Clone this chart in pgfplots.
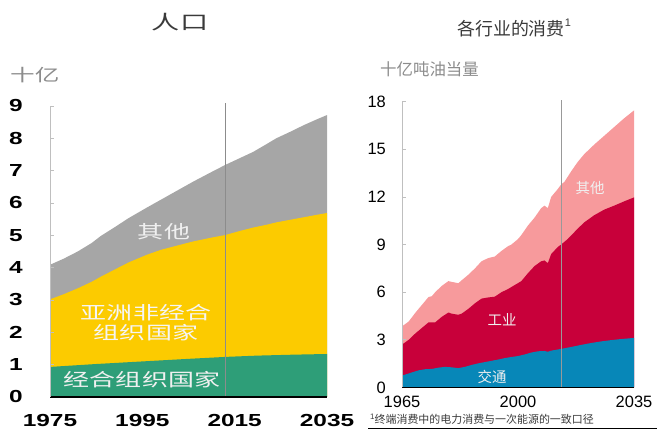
\documentclass[border=0pt]{standalone}
\usepackage{pgfplots}
\pgfplotsset{compat=1.18}
\usepackage{fontspec}
\setmainfont{Liberation Sans}
\newfontfamily\cjk{Noto Sans CJK SC}
\newfontfamily\cjkwide[FakeStretch=1.45]{Noto Sans CJK SC}
\newfontfamily\wide[FakeStretch=1.4]{Liberation Sans}
\definecolor{cgray}{HTML}{A6A6A6}
\definecolor{cyellow}{HTML}{FCCB00}
\definecolor{cgreen}{HTML}{2E9E78}
\definecolor{cpink}{HTML}{F79A9C}
\definecolor{cred}{HTML}{C8003A}
\definecolor{cblue}{HTML}{0787B8}
\definecolor{ctitle}{HTML}{3A3A3A}
\definecolor{clabel}{HTML}{8C8C8C}
\begin{document}
\begin{tikzpicture}[x=1bp,y=1bp]
\useasboundingbox (0,0) rectangle (660,436);
% ---------------- left: population ----------------
\begin{axis}[
  at={(50bp,39bp)}, anchor=south west,
  scale only axis, width=277bp, height=291bp,
  xmin=1975, xmax=2035, ymin=0, ymax=9,
  clip=false, axis on top,
  axis x line*=bottom, axis y line*=left,
  x axis line style={black, line width=2bp, -},
  y axis line style={black!25, line width=0.8bp, -},
  xtick={1975,1995,2015,2035},
  xticklabels={1975,1995,2015,2035},
  ytick={0,1,2,3,4,5,6,7,8,9},
  yticklabels={0,1,2,3,4,5,6,7,8,9},
  xtick style={draw=none},
  ytick style={black!25, line width=0.8bp},
  tick align=inside, major tick length=4bp,
  xticklabel style={anchor=center, yshift=-24bp, font=\wide\bfseries\fontsize{17.5}{18}\selectfont},
  yticklabel style={anchor=center, xshift=-34bp, font=\wide\bfseries\fontsize{17.5}{18}\selectfont},
]
\addplot[fill=cgray, draw=none] coordinates {
(1975,4.09) (1978,4.28) (1981,4.50) (1984,4.76) (1986,4.98) (1989,5.25) (1992,5.53)
(1996,5.86) (1999,6.10) (2003,6.42) (2006,6.66) (2010,6.96) (2013,7.18) (2016,7.38)
(2019,7.58) (2022,7.83) (2024,8.00) (2027,8.20) (2030,8.41) (2033,8.60) (2035,8.72)
} \closedcycle;
\addplot[fill=cyellow, draw=none] coordinates {
(1975,3.02) (1978,3.18) (1981,3.36) (1984,3.56) (1986,3.72) (1989,3.94) (1992,4.16)
(1996,4.40) (1999,4.55) (2003,4.70) (2006,4.81) (2010,4.93) (2013,5.01) (2016,5.13)
(2019,5.24) (2022,5.33) (2024,5.40) (2027,5.48) (2030,5.56) (2033,5.64) (2035,5.69)
} \closedcycle;
\addplot[fill=cgreen, draw=none] coordinates {
(1975,0.93) (1985,1.02) (1995,1.10) (2005,1.18) (2013,1.24) (2020,1.28) (2028,1.31) (2035,1.33)
} \closedcycle;
\addplot[black!45, line width=0.9bp] coordinates {(2013,0) (2013,9.1)};
\end{axis}
% ---------------- right: consumption ----------------
\begin{axis}[
  at={(402bp,48.5bp)}, anchor=south west,
  scale only axis, width=232bp, height=285.8bp,
  xmin=1965, xmax=2035, ymin=0, ymax=18,
  clip=false, axis on top,
  axis x line*=bottom, axis y line*=left,
  x axis line style={black, line width=1.8bp, -},
  y axis line style={black!25, line width=0.8bp, -},
  xtick={1965,2000,2035},
  xticklabels={1965,2000,2035},
  ytick={0,3,6,9,12,15,18},
  yticklabels={0,3,6,9,12,15,18},
  xtick style={draw=none},
  ytick style={black!25, line width=0.8bp},
  tick align=inside, major tick length=4bp,
  xticklabel style={anchor=center, yshift=-14bp, font=\fontsize{16.5}{17}\selectfont},
  yticklabel style={anchor=east, inner sep=0pt, xshift=-16bp, font=\fontsize{16.5}{17}\selectfont},
]
\addplot[fill=cpink, draw=none] coordinates {
(1965,3.85) (1967,4.15) (1969,4.70) (1971,5.20) (1973,5.70) (1974,5.75) (1975,6.00)
(1977,6.40) (1979,6.70) (1980,6.65) (1982,6.57) (1983,6.75) (1985,7.10) (1987,7.50)
(1989,7.95) (1991,8.15) (1993,8.25) (1995,8.60) (1997,8.90) (1998,9.00) (2000,9.35)
(2001,9.60) (2003,10.20) (2005,10.70) (2007,11.30) (2008,11.45) (2009,11.30) (2010,12.00)
(2012,12.50) (2013,12.78) (2014,12.95) (2016,13.60) (2018,14.20) (2020,14.70) (2023,15.30)
(2026,15.85) (2029,16.40) (2032,16.95) (2035,17.45)
} \closedcycle;
\addplot[fill=cred, draw=none] coordinates {
(1965,2.70) (1967,3.00) (1969,3.40) (1971,3.75) (1973,4.10) (1975,4.10) (1977,4.45)
(1979,4.72) (1980,4.65) (1982,4.58) (1983,4.65) (1985,4.95) (1987,5.30) (1989,5.60)
(1991,5.67) (1993,5.72) (1995,6.00) (1997,6.20) (1999,6.45) (2001,6.70) (2003,7.20)
(2005,7.65) (2007,7.95) (2008,8.00) (2009,7.83) (2010,8.40) (2012,8.85) (2013,9.00)
(2015,9.35) (2018,10.00) (2020,10.40) (2023,10.85) (2026,11.20) (2029,11.45) (2032,11.72)
(2035,11.97)
} \closedcycle;
\addplot[fill=cblue, draw=none] coordinates {
(1965,0.75) (1968,0.95) (1970,1.08) (1972,1.15) (1974,1.17) (1976,1.25) (1978,1.30)
(1980,1.27) (1982,1.22) (1984,1.30) (1986,1.42) (1988,1.52) (1990,1.60) (1992,1.68)
(1994,1.76) (1996,1.85) (1998,1.92) (2000,1.98) (2002,2.08) (2004,2.20) (2006,2.28)
(2008,2.30) (2009,2.25) (2010,2.32) (2013,2.43) (2016,2.55) (2019,2.68) (2022,2.80)
(2025,2.90) (2028,2.98) (2031,3.05) (2035,3.12)
} \closedcycle;
\addplot[black!40, line width=0.9bp] coordinates {(2013,0) (2013,18.1)};
\end{axis}
% ---------------- texts ----------------
\node[text=ctitle, font=\cjkwide\fontsize{19.5}{20}\selectfont] at (180,414) {人口};
\node[anchor=west, inner sep=0pt, text=clabel, font=\cjkwide\fontsize{17}{18}\selectfont] at (10,361) {十亿};
\node[text=white!94!black, font=\cjkwide\fontsize{18}{19}\selectfont] at (164,204) {其他};
\node[text=white!96!black, font=\cjkwide\fontsize{18}{19}\selectfont] at (146,123) {亚洲非经合};
\node[text=white!96!black, font=\cjkwide\fontsize{18}{19}\selectfont] at (146,103) {组织国家};
\node[text=white!94!black, font=\cjkwide\fontsize{18}{19}\selectfont] at (142,56) {经合组织国家};

\node[anchor=west, inner sep=0pt, text=ctitle, font=\cjk\fontsize{18}{19}\selectfont] at (457,408) {各行业的消费\raisebox{0.45em}{\fontspec{Liberation Sans}\fontsize{11}{12}\selectfont 1}};
\node[anchor=west, inner sep=0pt, text=clabel, font=\cjk\fontsize{16.5}{17}\selectfont] at (380,367) {十亿吨油当量};
\node[text=white!94!black, font=\cjk\fontsize{14.5}{15}\selectfont] at (590,248) {其他};
\node[text=white!94!black, font=\cjk\fontsize{14.5}{15}\selectfont] at (502,116) {工业};
\node[text=white!94!black, font=\cjk\fontsize{14.5}{15}\selectfont] at (492,59) {交通};
\node[anchor=west, inner sep=0pt, text=ctitle, font=\cjk\fontsize{11}{12}\selectfont] at (370,17) {\raisebox{0.4em}{\fontspec{Liberation Sans}\fontsize{8}{9}\selectfont 1}终端消费中的电力消费与一次能源的一致口径};
\draw[black, line width=1bp] (368,7) -- (657,7);
\end{tikzpicture}
\end{document}
